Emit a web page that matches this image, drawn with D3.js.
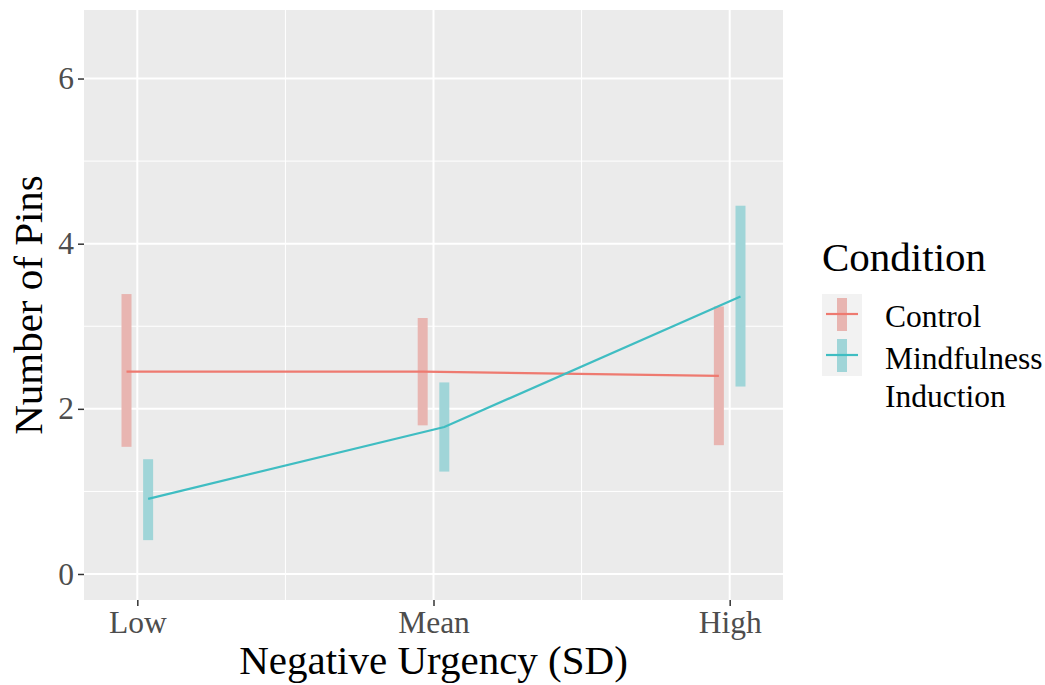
<!DOCTYPE html>
<html>
<head>
<meta charset="utf-8">
<script src="https://cdn.jsdelivr.net/npm/d3@7"></script>
<style>
  body { margin: 0; background: #fff; }
  text { font-family: "Liberation Serif", "Times New Roman", serif; }
</style>
</head>
<body>
<script>
// data
const levels = ["Low", "Mean", "High"];
const levelPos = [-1, 0, 1];
const conditions = ["Control", "Mindfulness Induction"];
const lineColors = ["#EE7A70", "#3FBDC2"];
const barColors = ["#E8B5B1", "#A0D5D8"];
const controlMean = [2.45, 2.45, 2.40];
const controlLower = [1.54, 1.80, 1.56];
const controlUpper = [3.39, 3.10, 3.24];
const mindMean = [0.91, 1.78, 3.36];
const mindLower = [0.41, 1.24, 2.27];
const mindUpper = [1.39, 2.32, 4.46];
const yTicks = [0, 2, 4, 6];
const yMinor = [1, 3, 5];
const xMinor = [-0.5, 0.5];
const dodge = 0.0365;

const width = 1045, height = 685;
const panel = { left: 84, right: 783, top: 10, bottom: 600 };

const svg = d3.select("body").append("svg")
  .attr("width", width)
  .attr("height", height);

const x = d3.scaleLinear().domain([-1.18, 1.18]).range([panel.left, panel.right]);
const y = d3.scaleLinear().domain([-0.315, 6.83]).range([panel.bottom, panel.top]);

// panel background
svg.append("rect")
  .attr("x", panel.left).attr("y", panel.top)
  .attr("width", panel.right - panel.left)
  .attr("height", panel.bottom - panel.top)
  .attr("fill", "#EBEBEB");

// minor grid
svg.selectAll(".yminor").data(yMinor).enter().append("line")
  .attr("x1", panel.left).attr("x2", panel.right)
  .attr("y1", d => y(d)).attr("y2", d => y(d))
  .attr("stroke", "#fff").attr("stroke-width", 1);
svg.selectAll(".xminor").data(xMinor).enter().append("line")
  .attr("y1", panel.top).attr("y2", panel.bottom)
  .attr("x1", d => x(d)).attr("x2", d => x(d))
  .attr("stroke", "#fff").attr("stroke-width", 1);

// major grid
svg.selectAll(".ymajor").data(yTicks).enter().append("line")
  .attr("x1", panel.left).attr("x2", panel.right)
  .attr("y1", d => y(d)).attr("y2", d => y(d))
  .attr("stroke", "#fff").attr("stroke-width", 2);
svg.selectAll(".xmajor").data(levelPos).enter().append("line")
  .attr("y1", panel.top).attr("y2", panel.bottom)
  .attr("x1", d => x(d)).attr("x2", d => x(d))
  .attr("stroke", "#fff").attr("stroke-width", 2);

// axes
const yAxis = svg.append("g")
  .attr("transform", `translate(${panel.left},0)`)
  .call(d3.axisLeft(y).tickValues(yTicks).tickSize(6).tickPadding(4).tickFormat(d3.format("d")));
const xAxis = svg.append("g")
  .attr("transform", `translate(0,${panel.bottom})`)
  .call(d3.axisBottom(x).tickValues(levelPos).tickSize(6).tickPadding(5)
    .tickFormat((d, i) => levels[i]));
[yAxis, xAxis].forEach(a => {
  a.select(".domain").remove();
  a.selectAll(".tick line").attr("stroke", "#333").attr("stroke-width", 1.5);
  a.selectAll(".tick text")
    .attr("fill", "#4D4D4D")
    .style("font-size", "31.5px")
    .style("font-family", "'Liberation Serif', serif");
});

// series
const series = [
  { mean: controlMean, lower: controlLower, upper: controlUpper, off: -dodge, i: 0 },
  { mean: mindMean, lower: mindLower, upper: mindUpper, off: dodge, i: 1 }
];

// error bars first, lines on top
series.forEach(s => {
  const pts = levelPos.map((p, i) => ({ x: p + s.off, lo: s.lower[i], hi: s.upper[i] }));
  svg.append("g").selectAll("rect").data(pts).enter().append("rect")
    .attr("x", d => x(d.x) - 5)
    .attr("width", 10)
    .attr("y", d => y(d.hi))
    .attr("height", d => y(d.lo) - y(d.hi))
    .attr("fill", barColors[s.i]);
});

series.forEach(s => {
  const pts = levelPos.map((p, i) => ({ x: p + s.off, m: s.mean[i] }));
  const line = d3.line().x(d => x(d.x)).y(d => y(d.m));
  svg.append("path")
    .attr("d", line(pts))
    .attr("fill", "none")
    .attr("stroke", lineColors[s.i])
    .attr("stroke-width", 2.2);
});

// axis titles
svg.append("text")
  .attr("x", (panel.left + panel.right) / 2)
  .attr("y", 674)
  .attr("text-anchor", "middle")
  .style("font-size", "41px")
  .attr("fill", "#000")
  .text("Negative Urgency (SD)");

svg.append("text")
  .attr("transform", `translate(42,${(panel.top + panel.bottom) / 2}) rotate(-90)`)
  .attr("text-anchor", "middle")
  .style("font-size", "41px")
  .attr("fill", "#000")
  .text("Number of Pins");

// legend
const legend = svg.append("g");
legend.append("text")
  .attr("x", 822).attr("y", 271)
  .style("font-size", "41px")
  .text("Condition");

legend.append("rect")
  .attr("x", 822).attr("y", 294)
  .attr("width", 40).attr("height", 82)
  .attr("fill", "#F2F2F2");

const keyTop = [294, 335];
keyTop.forEach((top, i) => {
  legend.append("rect")
    .attr("x", 837).attr("y", top + 4)
    .attr("width", 10).attr("height", 33)
    .attr("fill", barColors[i]);
  legend.append("line")
    .attr("x1", 826).attr("x2", 858)
    .attr("y1", top + 20).attr("y2", top + 20)
    .attr("stroke", lineColors[i]).attr("stroke-width", 2.2);
});

legend.append("text").attr("x", 885).attr("y", 327)
  .style("font-size", "31.5px").text(conditions[0]);
legend.append("text").attr("x", 885).attr("y", 369)
  .style("font-size", "31.5px").text("Mindfulness");
legend.append("text").attr("x", 885).attr("y", 407)
  .style("font-size", "31.5px").text("Induction");
</script>
</body>
</html>
